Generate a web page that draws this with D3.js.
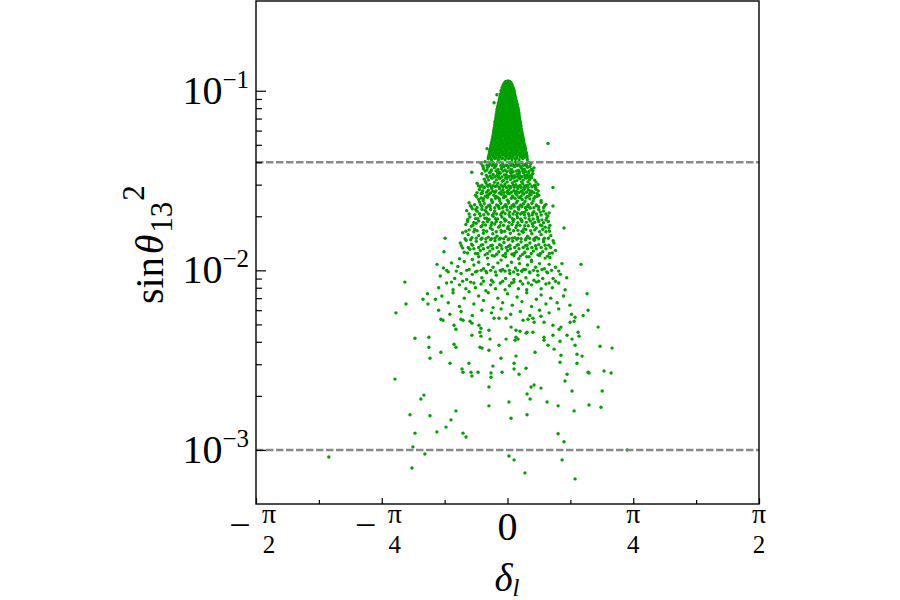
<!DOCTYPE html>
<html><head><meta charset="utf-8">
<script src="https://cdn.jsdelivr.net/npm/d3@7/dist/d3.min.js"></script>
<style>body{margin:0;background:#fff}svg{display:block}</style>
</head><body><svg id="chart" width="900" height="600"></svg>
<script>
// ---- data ----
const xDomain = [-Math.PI / 2, Math.PI / 2];
const yDomain = [5.0e-4, 0.316];
const xMajorTicks = [-Math.PI / 2, -Math.PI / 4, 0, Math.PI / 4, Math.PI / 2];
const xTickSigns = ["−", "−", "", "", ""];
const xTickNumerators = ["π", "π", "0", "π", "π"];
const xTickDenominators = ["2", "4", "", "4", "2"];
const xMinorTicks = [-3 * Math.PI / 8, -Math.PI / 8, Math.PI / 8, 3 * Math.PI / 8];
const yMajorTicks = [1e-3, 1e-2, 1e-1];
const yTickExponents = ["−3", "−2", "−1"];
const yMinorTicks = [2e-3, 3e-3, 4e-3, 5e-3, 6e-3, 7e-3, 8e-3, 9e-3, 2e-2, 3e-2, 4e-2, 5e-2, 6e-2, 7e-2, 8e-2, 9e-2];
const referenceLines = [0.04, 0.001];

// core of the distribution (dense peak near delta = 0)
const peakPoints = [
[-0.01,0.1125],[0.003,0.1135],[0.014,0.1128],
[-0.02,0.1098],[-0.005,0.1106],[0.01,0.1095],[0.022,0.1102],
[-0.028,0.1062],[-0.013,0.1055],[0.002,0.1065],[0.017,0.1057],[0.03,0.1063],
[-0.033,0.1018],[-0.018,0.1026],[-0.003,0.1015],[0.012,0.1024],[0.027,0.1016],[0.038,0.1022],
[-0.038,0.0984],[-0.022,0.0976],[-0.006,0.0985],[0.01,0.0977],[0.026,0.0986],[0.041,0.0978],
[-0.043,0.0937],[-0.027,0.0945],[-0.011,0.0936],[0.005,0.0944],[0.021,0.0935],[0.037,0.0943],[0.047,0.0938],
[-0.047,0.0908],[-0.031,0.09],[-0.015,0.0909],[0.001,0.0901],[0.017,0.091],[0.033,0.0902],[0.05,0.0907],
[-0.052,0.0866],[-0.036,0.0874],[-0.02,0.0865],[-0.004,0.0873],[0.012,0.0864],[0.028,0.0872],[0.044,0.0866],[0.055,0.0871],
[-0.057,0.0843],[-0.041,0.0836],[-0.025,0.0844],[-0.009,0.0835],[0.007,0.0845],[0.023,0.0837],[0.039,0.0843],[0.055,0.0836],[0.06,0.0842],
[-0.061,0.0806],[-0.045,0.0814],[-0.029,0.0805],[-0.013,0.0813],[0.003,0.0804],[0.019,0.0812],[0.035,0.0806],[0.051,0.0814],[0.064,0.0808],
[-0.065,0.0784],[-0.049,0.0776],[-0.033,0.0785],[-0.017,0.0777],[-0.001,0.0786],[0.015,0.0778],[0.031,0.0784],[0.047,0.0776],[0.063,0.0783],[0.068,0.0778],
[-0.068,0.0746],[-0.052,0.0754],[-0.036,0.0745],[-0.02,0.0753],[-0.004,0.0744],[0.012,0.0752],[0.028,0.0746],[0.044,0.0754],[0.06,0.0745],[0.071,0.0752],
[-0.071,0.0723],[-0.055,0.0716],[-0.039,0.0724],[-0.023,0.0715],[-0.007,0.0725],[0.009,0.0716],[0.025,0.0723],[0.041,0.0715],[0.057,0.0724],[0.073,0.0717],
[-0.074,0.0686],[-0.058,0.0694],[-0.042,0.0685],[-0.026,0.0693],[-0.01,0.0684],[0.006,0.0692],[0.022,0.0686],[0.038,0.0694],[0.054,0.0685],[0.07,0.0693],[0.076,0.0687],
[-0.078,0.0663],[-0.062,0.0656],[-0.046,0.0664],[-0.03,0.0655],[-0.014,0.0665],[0.002,0.0656],[0.018,0.0663],[0.034,0.0655],[0.05,0.0664],[0.066,0.0657],[0.08,0.0662],
[-0.081,0.0626],[-0.065,0.0634],[-0.049,0.0625],[-0.033,0.0633],[-0.017,0.0624],[-0.001,0.0632],[0.015,0.0626],[0.031,0.0634],[0.047,0.0625],[0.063,0.0633],[0.079,0.0627],[0.084,0.0632],
[-0.085,0.0603],[-0.069,0.0596],[-0.053,0.0604],[-0.037,0.0595],[-0.021,0.0605],[-0.005,0.0596],[0.011,0.0603],[0.027,0.0595],[0.043,0.0604],[0.059,0.0597],[0.075,0.0603],[0.088,0.0598],
[-0.088,0.0571],[-0.072,0.0578],[-0.056,0.057],[-0.04,0.0579],[-0.024,0.0571],[-0.008,0.0578],[0.008,0.057],[0.024,0.0579],[0.04,0.0571],[0.056,0.0578],[0.072,0.057],[0.088,0.0577],[0.092,0.0572],
[-0.092,0.0552],[-0.076,0.0546],[-0.06,0.0553],[-0.044,0.0545],[-0.028,0.0554],[-0.012,0.0546],[0.004,0.0552],[0.02,0.0545],[0.036,0.0553],[0.052,0.0546],[0.068,0.0552],[0.084,0.0545],[0.096,0.0551],
[-0.097,0.0522],[-0.081,0.0528],[-0.065,0.0521],[-0.049,0.0529],[-0.033,0.0522],[-0.017,0.0528],[-0.001,0.0521],[0.015,0.0529],[0.031,0.0522],[0.047,0.0528],[0.063,0.0521],[0.079,0.0529],[0.095,0.0522],[0.101,0.0527],
[-0.102,0.0502],[-0.086,0.0497],[-0.07,0.0503],[-0.054,0.0496],[-0.038,0.0504],[-0.022,0.0497],[-0.006,0.0502],[0.01,0.0496],[0.026,0.0503],[0.042,0.0497],[0.058,0.0502],[0.074,0.0496],[0.09,0.0503],[0.106,0.0498],
[-0.107,0.0476],[-0.09,0.0481],[-0.074,0.0475],[-0.058,0.0482],[-0.042,0.0476],[-0.026,0.0481],[-0.01,0.0475],[0.006,0.0482],[0.022,0.0476],[0.038,0.0481],[0.054,0.0475],[0.07,0.0482],[0.086,0.0476],[0.102,0.0481],[0.112,0.0477],
[-0.112,0.0458],[-0.095,0.0453],[-0.078,0.0459],[-0.06,0.0452],[-0.043,0.0458],[-0.025,0.0453],[-0.008,0.0459],[0.01,0.0452],[0.027,0.0458],[0.045,0.0453],[0.062,0.0459],[0.08,0.0452],[0.097,0.0458],[0.116,0.0454],
[-0.118,0.0434],[-0.1,0.0439],[-0.083,0.0433],[-0.065,0.0438],[-0.048,0.0432],[-0.03,0.0439],[-0.012,0.0433],[0.005,0.0438],[0.022,0.0432],[0.04,0.0439],[0.058,0.0433],[0.075,0.0438],[0.093,0.0432],[0.11,0.0437],[0.122,0.0434],
[-0.12,0.0418],[-0.1,0.0413],[-0.08,0.0419],[-0.058,0.0414],[-0.036,0.0418],[-0.015,0.0413],[0.006,0.0419],[0.028,0.0414],[0.05,0.0418],[0.072,0.0413],[0.095,0.0419],[0.124,0.0414],
[-0.066,0.095],[-0.084,0.0858],[-0.128,0.0476],[0.253,0.0508]
];

// more points of the dense peak, lying between the ones above
const peakFillPoints = [
[-0.016,0.1115],[-0.002,0.1112],[0.012,0.1117],[0.02,0.1113],
[-0.026,0.108],[-0.012,0.1077],[0.003,0.1082],[0.018,0.1078],[0.028,0.1081],
[-0.034,0.104],[-0.02,0.1037],[-0.005,0.1042],[0.01,0.1038],[0.024,0.1041],[0.035,0.1039],
[-0.04,0.1002],[-0.026,0.0998],[-0.01,0.1003],[0.004,0.0997],[0.019,0.1002],[0.033,0.0998],[0.042,0.1001],
[-0.044,0.096],[-0.03,0.0957],[-0.014,0.0962],[0.002,0.0958],[0.018,0.0961],[0.032,0.0957],[0.045,0.096],
[-0.048,0.0922],[-0.035,0.0918],[-0.019,0.0923],[-0.003,0.0919],[0.013,0.0922],[0.029,0.0918],[0.042,0.0921],[0.05,0.0919],
[-0.052,0.0888],[-0.039,0.0885],[-0.023,0.089],[-0.007,0.0886],[0.009,0.0889],[0.025,0.0885],[0.04,0.0888],[0.053,0.0886],
[-0.057,0.0855],[-0.044,0.0852],[-0.028,0.0857],[-0.012,0.0853],[0.004,0.0856],[0.02,0.0852],[0.036,0.0855],[0.05,0.0853],[0.058,0.0856],
[-0.06,0.0825],[-0.049,0.0822],[-0.033,0.0827],[-0.017,0.0823],[-0.001,0.0826],[0.015,0.0822],[0.031,0.0825],[0.047,0.0823],[0.061,0.0826],
[-0.064,0.0795],[-0.053,0.0792],[-0.037,0.0797],[-0.021,0.0793],[-0.005,0.0796],[0.011,0.0792],[0.027,0.0795],[0.043,0.0793],[0.058,0.0796],[0.066,0.0793],
[-0.067,0.0765],[-0.057,0.0762],[-0.041,0.0767],[-0.025,0.0763],[-0.009,0.0766],[0.007,0.0762],[0.023,0.0765],[0.039,0.0763],[0.055,0.0766],[0.069,0.0763],
[-0.07,0.0735],[-0.06,0.0732],[-0.044,0.0737],[-0.028,0.0733],[-0.012,0.0736],[0.004,0.0732],[0.02,0.0735],[0.036,0.0733],[0.052,0.0736],[0.066,0.0733],[0.072,0.0736],
[-0.073,0.0705],[-0.063,0.0702],[-0.047,0.0707],[-0.031,0.0703],[-0.015,0.0706],[0.001,0.0702],[0.017,0.0705],[0.033,0.0703],[0.049,0.0706],[0.065,0.0703],[0.075,0.0706],
[-0.077,0.0675],[-0.066,0.0672],[-0.05,0.0677],[-0.034,0.0673],[-0.018,0.0676],[-0.002,0.0672],[0.014,0.0675],[0.03,0.0673],[0.046,0.0676],[0.062,0.0673],[0.078,0.0676],
[-0.08,0.0645],[-0.07,0.0642],[-0.054,0.0647],[-0.038,0.0643],[-0.022,0.0646],[-0.006,0.0642],[0.01,0.0645],[0.026,0.0643],[0.042,0.0646],[0.058,0.0643],[0.074,0.0646],[0.082,0.0643],
[-0.083,0.0615],[-0.073,0.0612],[-0.057,0.0617],[-0.041,0.0613],[-0.025,0.0616],[-0.009,0.0612],[0.007,0.0615],[0.023,0.0613],[0.039,0.0616],[0.055,0.0613],[0.071,0.0616],[0.086,0.0613],
[-0.087,0.0588],[-0.077,0.0585],[-0.061,0.059],[-0.045,0.0586],[-0.029,0.0589],[-0.013,0.0585],[0.003,0.0588],[0.019,0.0586],[0.035,0.0589],[0.051,0.0586],[0.067,0.0589],[0.083,0.0586],[0.09,0.0588],
[-0.09,0.0562],[-0.08,0.056],[-0.064,0.0564],[-0.048,0.056],[-0.032,0.0563],[-0.016,0.0559],[0.0,0.0562],[0.016,0.056],[0.032,0.0563],[0.048,0.056],[0.064,0.0563],[0.08,0.056],[0.094,0.0562],
[-0.095,0.0537],[-0.084,0.0535],[-0.068,0.0539],[-0.052,0.0535],[-0.036,0.0538],[-0.02,0.0534],[-0.004,0.0537],[0.012,0.0535],[0.028,0.0538],[0.044,0.0535],[0.06,0.0538],[0.076,0.0535],[0.09,0.0538],[0.099,0.0536],
[-0.1,0.0512],[-0.089,0.051],[-0.073,0.0514],[-0.057,0.051],[-0.041,0.0513],[-0.025,0.0509],[-0.009,0.0512],[0.007,0.051],[0.023,0.0513],[0.039,0.051],[0.055,0.0513],[0.071,0.051],[0.087,0.0513],[0.103,0.051],
[-0.105,0.0489],[-0.094,0.0487],[-0.078,0.0491],[-0.062,0.0487],[-0.046,0.049],[-0.03,0.0486],[-0.014,0.0489],[0.002,0.0487],[0.018,0.049],[0.034,0.0487],[0.05,0.049],[0.066,0.0487],[0.082,0.049],[0.098,0.0487],[0.109,0.0489],
[-0.11,0.0467],[-0.098,0.0465],[-0.082,0.0469],[-0.066,0.0465],[-0.05,0.0468],[-0.034,0.0464],[-0.018,0.0467],[-0.002,0.0465],[0.014,0.0468],[0.03,0.0465],[0.046,0.0468],[0.062,0.0465],[0.078,0.0468],[0.094,0.0465],[0.11,0.0467],
[-0.114,0.0446],[-0.104,0.0444],[-0.087,0.0448],[-0.069,0.0444],[-0.052,0.0447],[-0.034,0.0443],[-0.017,0.0446],[0.0,0.0444],[0.018,0.0447],[0.036,0.0444],[0.053,0.0447],[0.071,0.0444],[0.088,0.0447],[0.105,0.0444],[0.119,0.0446],
[-0.119,0.0426],[-0.108,0.0424],[-0.09,0.0428],[-0.07,0.0424],[-0.05,0.0427],[-0.03,0.0423],[-0.008,0.0426],[0.013,0.0424],[0.035,0.0427],[0.058,0.0424],[0.08,0.0427],[0.102,0.0424],[0.12,0.0426]
];

// body of the distribution (0.04 down to ~0.0056)
const bodyPoints = [
[-0.165,0.0395],[-0.14,0.0402],[-0.128,0.0385],[-0.11,0.0392],[-0.09,0.0398],[-0.07,0.0388],[-0.05,0.0401],[-0.03,0.0392],[-0.01,0.0385],[0.012,0.0398],[0.03,0.039],[0.05,0.0402],[0.07,0.0389],[0.09,0.0396],[0.11,0.0387],[0.13,0.04],[0.145,0.0392],
[-0.155,0.0383],[-0.118,0.0381],[-0.096,0.0384],[-0.075,0.038],[-0.042,0.0383],[-0.022,0.0379],[0.0,0.0382],[0.02,0.0384],[0.04,0.0379],[0.06,0.0383],[0.08,0.038],[0.1,0.0384],[0.12,0.0381],[0.14,0.0379],
[-0.15,0.0368],[-0.125,0.0375],[-0.1,0.0362],[-0.082,0.0373],[-0.06,0.0365],[-0.035,0.0376],[-0.015,0.0362],[0.005,0.0372],[0.025,0.0365],[0.045,0.0378],[0.068,0.0361],[0.088,0.037],[0.105,0.0366],[0.125,0.0375],[0.15,0.0364],[0.165,0.0372],
[-0.14,0.0357],[-0.105,0.0354],[-0.072,0.0358],[-0.052,0.0353],[-0.028,0.0357],[-0.005,0.0355],[0.015,0.0358],[0.035,0.0354],[0.055,0.0357],[0.075,0.0353],[0.095,0.0358],[0.115,0.0354],[0.135,0.0357],
[-0.16,0.0345],[-0.132,0.0338],[-0.112,0.035],[-0.09,0.0342],[-0.067,0.0336],[-0.045,0.0347],[-0.02,0.034],[0.0,0.0333],[0.02,0.0348],[0.042,0.0337],[0.06,0.0344],[0.082,0.0334],[0.1,0.0349],[0.122,0.034],[0.14,0.0335],[0.158,0.0346],
[-0.125,0.033],[-0.1,0.0328],[-0.078,0.0332],[-0.055,0.0329],[-0.035,0.0331],[-0.012,0.0328],[0.01,0.0332],[0.03,0.0329],[0.05,0.0331],[0.07,0.0328],[0.09,0.0332],[0.11,0.0329],[0.13,0.0331],[0.15,0.0328],
[-0.145,0.0322],[-0.118,0.0318],[-0.095,0.0326],[-0.07,0.0319],[-0.048,0.0324],[-0.025,0.0317],[-0.005,0.0325],[0.018,0.032],[0.038,0.0327],[0.058,0.0316],[0.078,0.0323],[0.098,0.0318],[0.118,0.0326],[0.138,0.032],[0.17,0.0318],
[-0.223,0.0352],
[-0.19,0.0305],[-0.16,0.0298],[-0.135,0.0308],[-0.11,0.0301],[-0.088,0.0296],[-0.06,0.0306],[-0.04,0.0299],[-0.015,0.0303],[0.008,0.0295],[0.03,0.0307],[0.052,0.03],[0.075,0.0294],[0.095,0.0304],[0.115,0.0297],[0.14,0.0302],[0.165,0.0295],[0.19,0.0301],
[-0.17,0.0292],[-0.145,0.029],[-0.122,0.0294],[-0.1,0.0291],[-0.075,0.0293],[-0.052,0.029],[-0.03,0.0292],[-0.006,0.0289],[0.018,0.0293],[0.042,0.029],[0.062,0.0292],[0.085,0.0289],[0.105,0.0293],[0.128,0.029],[0.152,0.0292],[0.176,0.0289],
[-0.175,0.0282],[-0.148,0.0288],[-0.12,0.0279],[-0.098,0.0286],[-0.072,0.0277],[-0.05,0.0285],[-0.028,0.0281],[-0.004,0.0274],[0.018,0.0287],[0.04,0.0278],[0.065,0.0284],[0.085,0.0276],[0.108,0.0285],[0.13,0.028],[0.155,0.0274],[0.178,0.0283],
[-0.19,0.0271],[-0.158,0.0269],[-0.13,0.0272],[-0.105,0.027],[-0.078,0.0272],[-0.05,0.0269],[-0.022,0.0271],[0.002,0.0268],[0.025,0.0272],[0.05,0.0269],[0.072,0.0271],[0.095,0.0268],[0.118,0.0272],[0.14,0.0269],[0.165,0.0271],[0.185,0.0268],
[-0.2,0.0262],[-0.165,0.0268],[-0.138,0.0259],[-0.112,0.0266],[-0.085,0.0262],[-0.062,0.0255],[-0.038,0.0265],[-0.012,0.0258],[0.012,0.0267],[0.035,0.0256],[0.058,0.0263],[0.08,0.0254],[0.102,0.0266],[0.125,0.0258],[0.148,0.0264],[0.172,0.0257],[0.195,0.0262],
[-0.165,0.0253],[-0.125,0.0255],[-0.075,0.0252],[-0.025,0.0254],[0.024,0.0252],[0.07,0.0255],[0.115,0.0253],[0.165,0.0251],
[-0.18,0.0248],[-0.15,0.0251],[-0.1,0.0247],[-0.05,0.025],[0.0,0.0246],[0.048,0.0251],[0.092,0.0248],[0.14,0.025],
[0.284,0.0289],
[-0.24,0.0238],[-0.205,0.0232],[-0.175,0.024],[-0.145,0.0235],[-0.12,0.0229],[-0.095,0.0239],[-0.068,0.0231],[-0.042,0.0236],[-0.018,0.0228],[0.006,0.0237],[0.03,0.023],[0.055,0.0238],[0.078,0.0229],[0.1,0.0235],[0.125,0.0227],[0.152,0.0236],[0.18,0.0231],[0.21,0.0239],[0.24,0.0233],
[-0.225,0.0226],[-0.19,0.0224],[-0.16,0.0227],[-0.132,0.0224],[-0.108,0.0226],[-0.08,0.0223],[-0.055,0.0226],[-0.03,0.0223],[-0.006,0.0226],[0.018,0.0224],[0.042,0.0227],[0.066,0.0224],[0.09,0.0226],[0.112,0.0223],[0.138,0.0225],[0.165,0.0223],[0.195,0.0226],[0.225,0.0224],
[-0.255,0.0215],[-0.22,0.022],[-0.19,0.0213],[-0.16,0.0219],[-0.132,0.0211],[-0.105,0.0218],[-0.08,0.0214],[-0.052,0.0221],[-0.028,0.0212],[-0.002,0.0217],[0.022,0.0222],[0.045,0.0213],[0.07,0.0219],[0.092,0.021],[0.118,0.0217],[0.142,0.0222],[0.165,0.0212],[0.195,0.0218],[0.225,0.0214],[0.26,0.0209],
[-0.24,0.0206],[-0.205,0.0204],[-0.175,0.0207],[-0.148,0.0204],[-0.12,0.0206],[-0.095,0.0203],[-0.068,0.0206],[-0.042,0.0204],[-0.015,0.0207],[0.01,0.0204],[0.035,0.0206],[0.058,0.0203],[0.082,0.0206],[0.105,0.0204],[0.13,0.0207],[0.155,0.0204],[0.18,0.0206],[0.21,0.0203],[0.24,0.0206],
[-0.235,0.0198],[-0.2,0.0194],[-0.17,0.0201],[-0.142,0.0195],[-0.115,0.0192],[-0.09,0.02],[-0.062,0.0193],[-0.035,0.0198],[-0.01,0.019],[0.015,0.0199],[0.04,0.0192],[0.062,0.0197],[0.088,0.019],[0.11,0.0196],[0.135,0.0201],[0.16,0.0193],[0.188,0.0198],[0.215,0.0191],[0.245,0.0196],
[-0.25,0.0187],[-0.21,0.0185],[-0.18,0.0188],[-0.152,0.0185],[-0.125,0.0187],[-0.098,0.0184],[-0.07,0.0187],[-0.042,0.0185],[-0.015,0.0188],[0.01,0.0185],[0.035,0.0187],[0.065,0.0184],[0.09,0.0187],[0.118,0.0185],[0.142,0.0188],[0.17,0.0185],[0.195,0.0187],[0.225,0.0184],[0.255,0.0187],
[-0.26,0.018],[-0.225,0.0176],[-0.195,0.0183],[-0.165,0.0175],[-0.138,0.0179],[-0.108,0.0172],[-0.08,0.0181],[-0.055,0.0174],[-0.025,0.0178],[0.0,0.0171],[0.028,0.018],[0.052,0.0173],[0.078,0.0178],[0.102,0.017],[0.13,0.0177],[0.155,0.0182],[0.18,0.0172],[0.205,0.0179],[0.235,0.0174],[0.265,0.0178],
[-0.24,0.0168],[-0.205,0.0169],[-0.15,0.0167],[-0.095,0.0169],[-0.04,0.0167],[0.012,0.0169],[0.065,0.0167],[0.115,0.0169],[0.17,0.0168],[0.22,0.0169],
[0.284,0.0228],[0.353,0.0172],
[-0.28,0.0162],[-0.245,0.0158],[-0.21,0.0164],[-0.18,0.0156],[-0.15,0.0161],[-0.12,0.0153],[-0.092,0.016],[-0.065,0.0155],[-0.038,0.0163],[-0.01,0.0154],[0.018,0.0161],[0.045,0.0152],[0.072,0.0159],[0.098,0.0163],[0.125,0.0155],[0.152,0.016],[0.18,0.0153],[0.21,0.0158],[0.24,0.0164],[0.27,0.0156],
[-0.265,0.015],[-0.23,0.0148],[-0.195,0.0151],[-0.165,0.0149],[-0.135,0.015],[-0.105,0.0148],[-0.078,0.0151],[-0.05,0.0149],[-0.024,0.015],[0.004,0.0148],[0.03,0.0151],[0.058,0.0149],[0.085,0.015],[0.112,0.0148],[0.138,0.0151],[0.165,0.0149],[0.195,0.015],[0.225,0.0148],[0.255,0.0151],
[-0.295,0.0142],[-0.258,0.0147],[-0.225,0.014],[-0.195,0.0145],[-0.165,0.0138],[-0.135,0.0144],[-0.105,0.0137],[-0.078,0.0146],[-0.05,0.0139],[-0.022,0.0143],[0.005,0.0136],[0.032,0.0145],[0.06,0.0138],[0.085,0.0144],[0.112,0.0137],[0.14,0.0142],[0.168,0.0147],[0.195,0.0139],[0.225,0.0144],[0.258,0.0138],[0.29,0.0142],
[-0.28,0.0133],[-0.245,0.0134],[-0.21,0.0132],[-0.18,0.0134],[-0.15,0.0132],[-0.122,0.0134],[-0.092,0.0132],[-0.065,0.0134],[-0.035,0.0132],[-0.008,0.0134],[0.018,0.0132],[0.045,0.0134],[0.072,0.0132],[0.098,0.0134],[0.125,0.0132],[0.152,0.0134],[0.18,0.0132],[0.21,0.0134],[0.24,0.0132],[0.27,0.0134],
[-0.27,0.0126],[-0.235,0.0131],[-0.2,0.0124],[-0.17,0.0129],[-0.14,0.0122],[-0.11,0.0128],[-0.082,0.012],[-0.055,0.0127],[-0.028,0.0121],[0.0,0.0129],[0.028,0.0123],[0.055,0.0127],[0.08,0.012],[0.108,0.0126],[0.135,0.0119],[0.162,0.0128],[0.19,0.0122],[0.22,0.0127],[0.25,0.012],[0.28,0.0125],
[-0.18,0.0119],[-0.095,0.0121],[-0.012,0.0119],[0.04,0.0121],[0.12,0.0119],[0.2,0.0121],[0.265,0.0118],
[-0.3,0.0116],[-0.22,0.0115],[-0.125,0.0117],[-0.04,0.0114],[0.07,0.0116],[0.15,0.0114],[0.235,0.0117],
[-0.39,0.0151],[-0.397,0.0127],
[-0.44,0.0108],[-0.4,0.0103],[-0.35,0.011],[-0.31,0.0105],[-0.27,0.0112],[-0.24,0.0101],[-0.21,0.0107],[-0.18,0.0111],[-0.15,0.0102],[-0.12,0.0108],[-0.09,0.0104],[-0.06,0.011],[-0.03,0.0101],[0.0,0.0106],[0.025,0.0111],[0.05,0.0103],[0.075,0.0109],[0.1,0.0101],[0.125,0.0107],[0.15,0.0112],[0.175,0.0104],[0.2,0.0109],[0.23,0.0102],[0.26,0.0108],[0.3,0.0104],[0.34,0.0109],
[-0.38,0.01],[-0.32,0.0099],[-0.255,0.01],[-0.2,0.0098],[-0.165,0.01],[-0.135,0.0099],[-0.105,0.01],[-0.075,0.0098],[-0.045,0.01],[-0.015,0.0099],[0.012,0.01],[0.038,0.0098],[0.062,0.01],[0.088,0.0099],[0.112,0.0101],[0.138,0.0098],[0.162,0.01],[0.188,0.0099],[0.215,0.0101],[0.245,0.0098],[0.275,0.01],[0.32,0.0099],
[-0.42,0.0093],[-0.37,0.0098],[-0.33,0.009],[-0.29,0.0096],[-0.255,0.0089],[-0.22,0.0095],[-0.19,0.0099],[-0.16,0.0091],[-0.13,0.0097],[-0.1,0.0088],[-0.07,0.0094],[-0.04,0.0099],[-0.012,0.009],[0.015,0.0096],[0.04,0.0089],[0.065,0.0095],[0.09,0.0099],[0.115,0.0091],[0.14,0.0097],[0.165,0.0088],[0.19,0.0094],[0.22,0.009],[0.25,0.0097],[0.285,0.009],[0.33,0.0095],[0.37,0.0091],
[-0.35,0.0086],[-0.28,0.0087],[-0.21,0.0085],[-0.15,0.0087],[-0.09,0.0086],[-0.03,0.0087],[0.025,0.0085],[0.08,0.0087],[0.13,0.0085],[0.195,0.0087],[0.26,0.0085],[0.3,0.0087],
[-0.43,0.008],[-0.38,0.0085],[-0.34,0.0078],[-0.3,0.0083],[-0.26,0.0079],[-0.23,0.0086],[-0.2,0.008],[-0.165,0.0084],[-0.135,0.0077],[-0.105,0.0083],[-0.075,0.0079],[-0.045,0.0085],[-0.015,0.0078],[0.012,0.0082],[0.04,0.0086],[0.068,0.0079],[0.095,0.0084],[0.12,0.0078],[0.15,0.0083],[0.18,0.0086],[0.21,0.0079],[0.24,0.0084],[0.28,0.008],[0.32,0.0085],[0.36,0.0078],
[0.459,0.0108],[0.497,0.0074],[-0.641,0.0086],
[-0.5,0.0074],[-0.45,0.0069],[-0.41,0.0072],[-0.37,0.0066],[-0.34,0.0075],[-0.3,0.0063],[-0.27,0.007],[-0.24,0.0076],[-0.21,0.0065],[-0.18,0.0072],[-0.15,0.0068],[-0.12,0.0075],[-0.09,0.0062],[-0.06,0.007],[-0.03,0.0066],[0.0,0.0074],[0.03,0.0064],[0.06,0.0071],[0.09,0.0067],[0.12,0.0075],[0.15,0.0063],[0.18,0.0069],[0.21,0.0073],[0.24,0.0065],[0.27,0.007],[0.31,0.0066],[0.35,0.0072],[0.39,0.0064],
[-0.43,0.006],[-0.36,0.0057],[-0.29,0.0059],[-0.22,0.0056],[-0.16,0.006],[-0.1,0.0058],[-0.04,0.0061],[0.02,0.0057],[0.08,0.0059],[0.14,0.0056],[0.2,0.006],[0.26,0.0058],[0.32,0.0061],[0.4,0.0057],
[0.503,0.006],[0.472,0.0056],[-0.634,0.0065],[-0.697,0.0058],[-0.528,0.0069],[-0.497,0.0065]
];

// more body points, scattered between the ones above
const bodyFillPoints = [
[-0.152,0.0376],[-0.128,0.0362],[-0.088,0.0388],[-0.062,0.0349],[-0.038,0.0368],[-0.008,0.0341],[0.028,0.0352],[0.052,0.0389],[0.072,0.0343],[0.098,0.0362],[0.118,0.0392],[0.132,0.0348],[0.158,0.0358],
[-0.138,0.0312],[-0.108,0.0335],[-0.082,0.0309],[-0.058,0.0338],[-0.032,0.0313],[-0.002,0.0311],[0.024,0.0338],[0.046,0.0313],[0.068,0.0336],[0.088,0.031],[0.108,0.0338],[0.128,0.0311],[0.152,0.0339],[0.178,0.031],
[-0.182,0.0296],[-0.155,0.0277],[-0.128,0.0299],[-0.092,0.0276],[-0.066,0.0297],[-0.04,0.0274],[-0.018,0.0296],[0.006,0.0279],[0.036,0.0298],[0.056,0.0275],[0.078,0.0297],[0.098,0.0279],[0.122,0.0298],[0.145,0.0277],[0.17,0.0298],[0.192,0.0277],
[-0.192,0.0257],[-0.152,0.0244],[-0.126,0.0261],[-0.095,0.0242],[-0.072,0.0258],[-0.048,0.0243],[-0.02,0.026],[0.006,0.0242],[0.03,0.0259],[0.062,0.0243],[0.085,0.0259],[0.11,0.0242],[0.135,0.026],[0.16,0.0243],[0.185,0.0258],[0.21,0.0245],
[-0.232,0.0229],[-0.198,0.0218],[-0.168,0.0232],[-0.14,0.0216],[-0.112,0.0231],[-0.086,0.0208],[-0.06,0.0229],[-0.036,0.0209],[-0.012,0.0232],[0.014,0.0211],[0.038,0.0233],[0.062,0.0209],[0.085,0.0231],[0.108,0.0211],[0.13,0.0232],[0.158,0.0209],[0.182,0.0229],[0.205,0.0211],[0.232,0.0229],[0.252,0.0201],
[-0.248,0.0192],[-0.215,0.0179],[-0.185,0.0194],[-0.158,0.0178],[-0.13,0.0195],[-0.102,0.0178],[-0.075,0.0194],[-0.048,0.0177],[-0.02,0.0193],[0.005,0.0176],[0.03,0.0194],[0.058,0.0178],[0.082,0.0193],[0.108,0.0177],[0.135,0.0193],[0.16,0.0176],[0.19,0.0192],[0.215,0.0177],[0.24,0.0191],[0.258,0.0172],
[-0.26,0.0165],[-0.222,0.0152],[-0.19,0.0166],[-0.16,0.0151],[-0.13,0.0165],[-0.1,0.015],[-0.07,0.0164],[-0.045,0.0151],[-0.018,0.0165],[0.01,0.015],[0.038,0.0166],[0.065,0.0151],[0.09,0.0165],[0.118,0.0151],[0.145,0.0166],[0.172,0.0151],[0.2,0.0164],[0.23,0.0151],[0.262,0.0165],[0.285,0.0146],
[-0.288,0.0137],[-0.25,0.0125],[-0.218,0.0138],[-0.185,0.0124],[-0.155,0.0139],[-0.125,0.0124],[-0.095,0.0138],[-0.068,0.0123],[-0.04,0.0137],[-0.012,0.0124],[0.015,0.0138],[0.042,0.0124],[0.068,0.0139],[0.095,0.0123],[0.122,0.0138],[0.148,0.0124],[0.175,0.0137],[0.205,0.0124],[0.235,0.0138],[0.262,0.0124],[0.3,0.0129]
];

// sparse tail (below ~0.0056)
const tailPoints = [
[-0.416,0.00534],[-0.403,0.00527],[-0.334,0.00495],[-0.322,0.0047],[-0.291,0.00534],[-0.278,0.00527],[-0.234,0.00521],[-0.222,0.00508],[-0.178,0.00495],[-0.166,0.00476],[-0.116,0.00464],[-0.084,0.00541],[-0.053,0.00541],[-0.009,0.00541],[0.022,0.00483],[0.053,0.00464],[0.078,0.00458],[0.097,0.00527],[0.128,0.00534],[0.159,0.00541],[0.166,0.00514],[0.209,0.00555],[0.228,0.00514],[0.284,0.00495],[0.322,0.0047],[0.334,0.00483],[0.391,0.00514],[0.416,0.00521],[0.422,0.00548],[0.441,0.00452],[0.566,0.00483],
[-0.578,0.00419],[-0.491,0.00424],[-0.491,0.00373],[-0.334,0.00388],[-0.322,0.00373],[-0.222,0.00435],[-0.172,0.00452],[-0.166,0.0043],[-0.159,0.00369],[-0.172,0.00373],[-0.109,0.00414],[-0.053,0.00383],[-0.009,0.00414],[0.047,0.00408],[0.053,0.00424],[0.066,0.00414],[0.116,0.00447],[0.122,0.00452],[0.159,0.00452],[0.172,0.0035],[0.228,0.00424],[0.228,0.00408],[0.253,0.00383],[0.284,0.00435],[0.291,0.00364],[0.328,0.00403],[0.334,0.00337],[0.372,0.00435],[0.403,0.00414],[0.422,0.00383],[0.434,0.00341],[0.447,0.0043],[0.466,0.00333],[0.578,0.00378],[0.653,0.00369],
[-0.484,0.00324],[-0.416,0.0035],[-0.359,0.00304],[-0.284,0.00282],[-0.278,0.00271],[-0.241,0.00304],[-0.228,0.00271],[-0.222,0.00258],[-0.184,0.00271],[-0.116,0.00359],[-0.103,0.00268],[-0.103,0.00254],[-0.091,0.00293],[-0.041,0.00324],[-0.034,0.00271],[0.041,0.00304],[0.041,0.00282],[0.053,0.00333],[0.072,0.00264],[0.116,0.00285],[0.328,0.00308],[0.359,0.00242],[0.372,0.00264],[0.434,0.00304],[0.503,0.00271],[0.509,0.00268],[0.603,0.00275],[0.647,0.00268],[-0.703,0.00248],
[-0.116,0.00224],[0.147,0.00224],[0.166,0.0023],[0.122,0.00205],[0.141,0.00192],[0.209,0.00221],[0.247,0.00185],[0.316,0.00176],[0.403,0.00213],[0.416,0.00165],[0.509,0.00178],[0.591,0.00213],[0.584,0.00173],[-0.541,0.00192],[-0.522,0.00202],[-0.609,0.00157],[-0.578,0.00124],[-0.484,0.00155],[-0.441,0.00126],[-0.384,0.00134],[-0.353,0.00147],[-0.322,0.00165],[-0.278,0.00124],[-0.259,0.00118],[-0.116,0.00176],[0.009,0.00185],[0.022,0.0015],[0.122,0.00157],[0.316,0.00123],[0.353,0.00111],
[-0.591,0.00104],[-0.516,0.00095],[-0.597,0.000794],[0.009,0.000926],[0.041,0.00088],[0.109,0.000745],[0.341,0.00088],[0.422,0.00069],[-1.116,0.000914],[0.747,0.001]
];

// ---- layout ----
const W = 900, H = 600;
const plot = {left: 256, right: 759, top: 1, bottom: 504};
const serif = "'Liberation Serif','Times New Roman',Times,serif";
const green = "#00a000";

const svg = d3.select("#chart");
svg.append("rect").attr("width", W).attr("height", H).attr("fill", "#fff");

const x = d3.scaleLinear().domain(xDomain).range([plot.left, plot.right]);
const y = d3.scaleLog().domain(yDomain).range([plot.bottom, plot.top]);

const allPoints = peakPoints.concat(peakFillPoints, bodyPoints, bodyFillPoints, tailPoints);

// points
svg.append("g")
  .selectAll("circle")
  .data(allPoints)
  .join("circle")
  .attr("cx", d => x(d[0]))
  .attr("cy", d => y(d[1]))
  .attr("r", 1.7)
  .attr("fill", green);

// reference dashed lines
svg.append("g")
  .selectAll("line")
  .data(referenceLines)
  .join("line")
  .attr("x1", plot.left).attr("x2", plot.right)
  .attr("y1", d => y(d)).attr("y2", d => y(d))
  .attr("stroke", "#808080")
  .attr("stroke-opacity", 0.92)
  .attr("stroke-width", 2.6)
  .attr("stroke-dasharray", "7.5,2.5");

// axes ticks (inward)
const gLeftMajor = svg.append("g").attr("transform", `translate(${plot.left},0)`)
  .call(d3.axisLeft(y).tickValues(yMajorTicks).tickSize(-10).tickFormat(""));
const gLeftMinor = svg.append("g").attr("transform", `translate(${plot.left},0)`)
  .call(d3.axisLeft(y).tickValues(yMinorTicks).tickSize(-6).tickFormat(""));
const gBotMajor = svg.append("g").attr("transform", `translate(0,${plot.bottom})`)
  .call(d3.axisBottom(x).tickValues(xMajorTicks).tickSize(-6).tickFormat(""));
const gBotMinor = svg.append("g").attr("transform", `translate(0,${plot.bottom})`)
  .call(d3.axisBottom(x).tickValues(xMinorTicks).tickSize(-4).tickFormat(""));
[gLeftMajor, gLeftMinor, gBotMajor, gBotMinor].forEach(g => {
  g.select(".domain").remove();
  g.selectAll(".tick line").attr("stroke", "#000").attr("stroke-width", 1.2);
});

// frame
svg.append("rect")
  .attr("x", plot.left).attr("y", plot.top)
  .attr("width", plot.right - plot.left).attr("height", plot.bottom - plot.top)
  .attr("fill", "none").attr("stroke", "#000").attr("stroke-width", 1.4);

// y tick labels 10^k
yMajorTicks.forEach((v, i) => {
  const t = svg.append("text")
    .attr("x", plot.left - 7).attr("y", y(v) + 13)
    .attr("text-anchor", "end")
    .attr("font-family", serif).attr("font-size", 40).attr("fill", "#000");
  t.append("tspan").text("10");
  t.append("tspan").attr("dy", -16).attr("font-size", 25).text(yTickExponents[i]);
});

// x tick labels (fractions of π)
xMajorTicks.forEach((v, i) => {
  const cx = x(v);
  const g = svg.append("g").attr("font-family", serif).attr("fill", "#000");
  if (xTickDenominators[i] === "") {
    g.append("text").attr("x", cx).attr("y", 540).attr("text-anchor", "middle")
      .attr("font-size", 40).text(xTickNumerators[i]);
    return;
  }
  const fx = xTickSigns[i] ? cx + 13 : cx;
  g.append("text").attr("x", fx).attr("y", 523).attr("text-anchor", "middle")
    .attr("font-size", 28).text(xTickNumerators[i]);
  g.append("text").attr("x", fx).attr("y", 553).attr("text-anchor", "middle")
    .attr("font-size", 25).text(xTickDenominators[i]);
  if (xTickSigns[i]) {
    g.append("text").attr("x", cx - 16).attr("y", 538).attr("text-anchor", "middle")
      .attr("font-size", 38).text(xTickSigns[i]);
  }
});

// x axis title δ_l
const xt = svg.append("text")
  .attr("x", 507).attr("y", 591).attr("text-anchor", "middle")
  .attr("font-family", serif).attr("font-style", "italic").attr("font-size", 39).attr("fill", "#000");
xt.append("tspan").text("δ");
xt.append("tspan").attr("font-size", 25).attr("dy", 5).text("l");

// y axis title sinθ13^2
const yt = svg.append("text")
  .attr("transform", `translate(163,304) rotate(-90)`)
  .attr("text-anchor", "start")
  .attr("font-family", serif).attr("font-size", 40).attr("fill", "#000");
yt.append("tspan").text("sin");
yt.append("tspan").attr("font-style", "italic").attr("dx", 3).text("θ");
yt.append("tspan").attr("font-size", 31).attr("dx", 2).attr("dy", 9).text("13");
yt.append("tspan").attr("font-size", 31).attr("dx", 1).attr("dy", -28).text("2");
</script>
</body></html>
